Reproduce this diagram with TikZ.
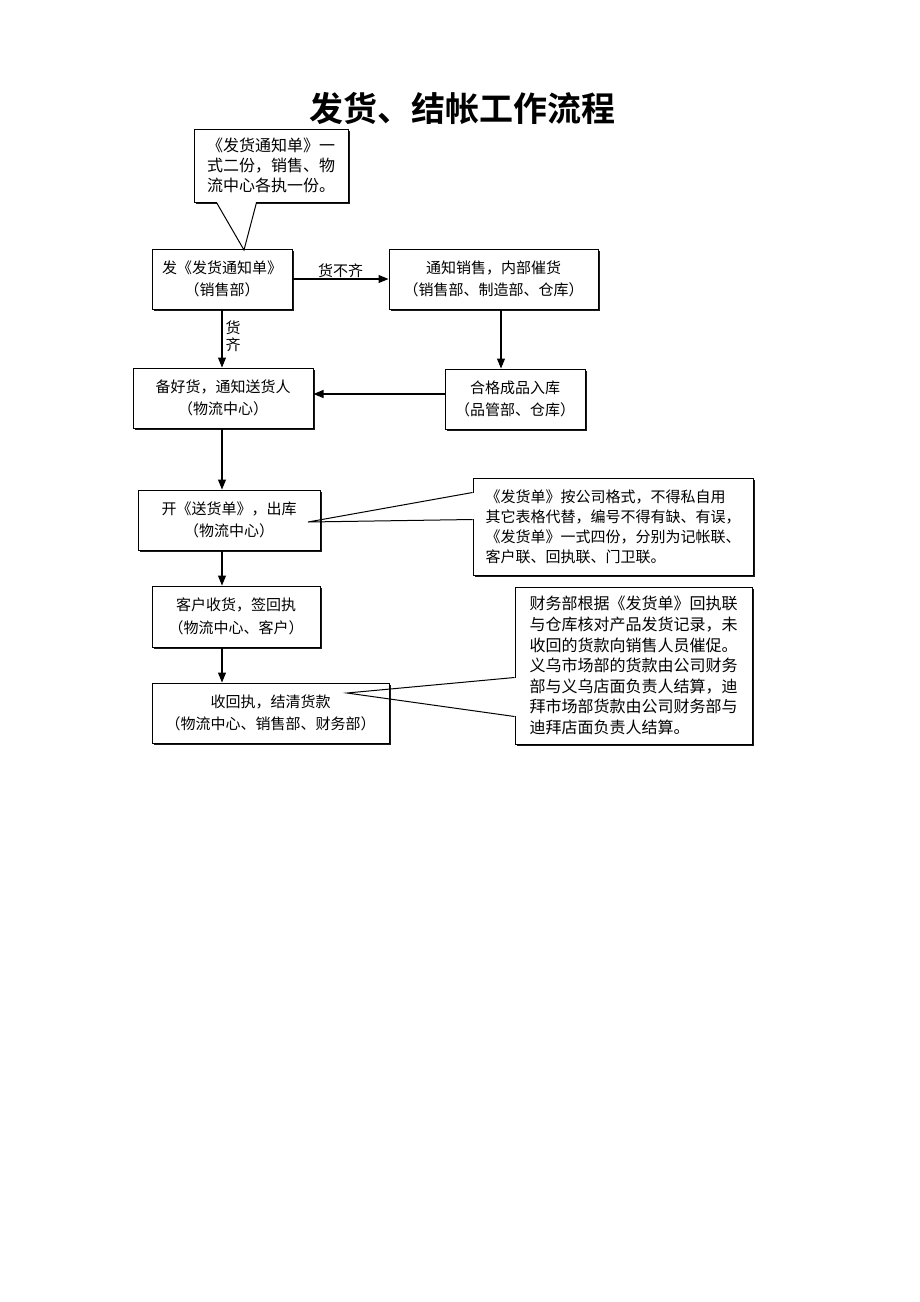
\documentclass[tikz,border=0pt]{standalone}
\usepackage{fontspec}
\newfontfamily\cjk{Noto Sans CJK SC}[BoldFont={Noto Sans CJK SC Bold}]
\usetikzlibrary{arrows.meta,shadows,calc}
\tikzset{
  box/.style={draw, line width=1pt, fill=white, align=center, inner sep=0pt,
    font=\cjk\fontsize{15}{22.5}\selectfont,
    drop shadow={shadow xshift=1.6pt, shadow yshift=-1.6pt, opacity=0.9, fill=black}},
  note/.style={draw, line width=1pt, fill=white, align=left, inner sep=0pt,
    drop shadow={shadow xshift=1.6pt, shadow yshift=-1.6pt, opacity=0.9, fill=black}},
  arr/.style={-{Triangle[length=10pt,width=8pt]}, line width=1.1pt},
  lbl/.style={font=\cjk\fontsize{15}{17}\selectfont, inner sep=0pt, align=center},
}
\begin{document}
\begin{tikzpicture}[x=1pt,y=-1pt]
    \useasboundingbox (0,0) rectangle (920,1302);
    \node[font=\cjk\bfseries\fontsize{34}{34}\selectfont] (title) at (462,108) {发货、结帐工作流程};
    % flow boxes
    \node[box, minimum width=140, minimum height=60] (fa) at (222,279) {发《发货通知单》\\（销售部）};
    \node[box, minimum width=209, minimum height=60] (tongzhi) at (493.5,279) {通知销售，内部催货\\（销售部、制造部、仓库）};
    \node[box, minimum width=180, minimum height=60] (beihuo) at (223,398) {备好货，通知送货人\\（物流中心）};
    \node[box, minimum width=140, minimum height=60] (ruku) at (515,399) {合格成品入库\\（品管部、仓库）};
    \node[box, minimum width=182, minimum height=60] (chuku) at (229,520) {开《送货单》，出库\\（物流中心）};
    \node[box, minimum width=168, minimum height=61] (qianshou) at (236,616.5) {客户收货，签回执\\（物流中心、客户）};
    \node[box, minimum width=237, minimum height=60] (jiesuan) at (270.5,713) {收回执，结清货款\\（物流中心、销售部、财务部）};
    % notes
    \node[note, minimum width=154, minimum height=73, font=\cjk\fontsize{16}{20}\selectfont] (n1) at (271,165.5)
        {《发货通知单》一\\式二份，销售、物\\流中心各执一份。};
    \node[note, minimum width=280, minimum height=97, font=\cjk\fontsize{15}{20}\selectfont] (n2) at (613,526.5)
        {《发货单》按公司格式，不得私自用\\其它表格代替，编号不得有缺、有误，\\《发货单》一式四份，分别为记帐联、\\客户联、回执联、门卫联。};
    \node[note, minimum width=237, minimum height=157, font=\cjk\fontsize{16}{20.6}\selectfont] (n3) at (633.5,665.5)
        {财务部根据《发货单》回执联\\与仓库核对产品发货记录，未\\收回的货款向销售人员催促。\\义乌市场部的货款由公司财务\\部与义乌店面负责人结算，迪\\拜市场部货款由公司财务部与\\迪拜店面负责人结算。};
    \coordinate (p1) at (244,250);
    \coordinate (p2) at (308,522);
    \coordinate (p3) at (347,693);
    % pointers
    \fill[white] ($(n1.south west)+(23.5,-1.5)$) rectangle ($(n1.south west)+(62.5,3.5)$);
    \draw[line width=1pt] ($(n1.south west)+(23,0)$) -- (p1) -- ($(n1.south west)+(63,0)$);
    \draw[white, line width=2.2pt] ($(n2.north west)+(0,15.5)$) -- ($(n2.north west)+(0,41.5)$);
    \draw[line width=1pt] ($(n2.north west)+(0,15)$) -- (p2) -- ($(n2.north west)+(0,42)$);
    \draw[white, line width=2.2pt] ($(n3.north west)+(0,91.5)$) -- ($(n3.north west)+(0,129.5)$);
    \draw[line width=1pt] ($(n3.north west)+(0,91)$) -- (p3) -- ($(n3.north west)+(0,130)$);
    % arrows
    \draw[arr] (fa.south) -- (fa.south |- beihuo.north) node[lbl, pos=0.46, right=3pt] {货\\齐};
    \draw[arr] (fa.east) -- (fa.east -| tongzhi.west) node[lbl, midway, above=1pt] {货不齐};
    \draw[arr] ([xshift=7.5pt]tongzhi.south) -- ([xshift=7.5pt]tongzhi.south |- ruku.north);
    \draw[arr] ([yshift=5pt]ruku.west) -- ([yshift=5pt]ruku.west -| beihuo.east);
    \draw[arr] (beihuo.south -| fa.south) -- (chuku.north -| fa.south);
    \draw[arr] (chuku.south -| fa.south) -- (qianshou.north -| fa.south);
    \draw[arr] (qianshou.south -| fa.south) -- (jiesuan.north -| fa.south);
\end{tikzpicture}
\end{document}
